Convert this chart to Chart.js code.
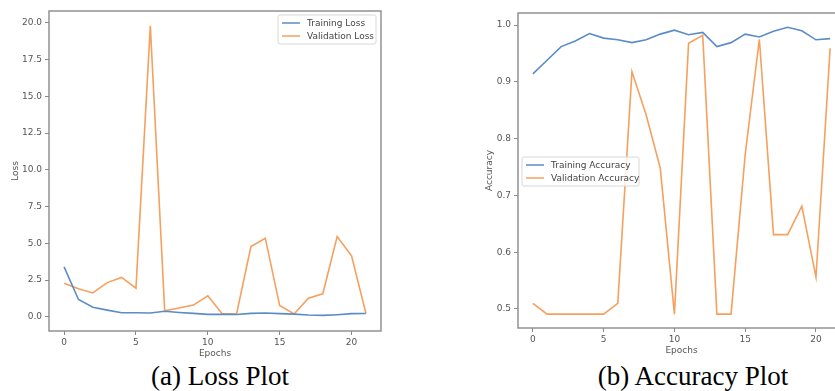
<!DOCTYPE html>
<html>
<head>
<meta charset="utf-8">
<script src="https://cdn.jsdelivr.net/npm/chart.js@4.4.1/dist/chart.umd.min.js"></script>
<style>
  html, body { margin: 0; padding: 0; background: #fff; }
  body { width: 835px; height: 391px; position: relative; overflow: hidden; }
  .plot { position: absolute; }
  .caption {
    position: absolute; top: 361px; font-family: "Liberation Serif", "Times New Roman", serif;
    font-size: 27px; line-height: 30px; color: #000; white-space: nowrap; transform: translateX(-50%);
  }
</style>
</head>
<body>
<div class="plot" style="left:0px; top:0px; width:400px; height:359px;"><canvas id="lossChart"></canvas></div>
<div class="plot" style="left:480px; top:0px; width:380px; height:356px;"><canvas id="accChart"></canvas></div>
<div class="caption" style="left:220px;">(a) Loss Plot</div>
<div class="caption" style="left:693px;">(b) Accuracy Plot</div>

<script>
// Data
const epochs = [0, 1, 2, 3, 4, 5, 6, 7, 8, 9, 10, 11, 12, 13, 14, 15, 16, 17, 18, 19, 20, 21];

const trainLoss = [3.4, 1.18, 0.65, 0.46, 0.28, 0.28, 0.26, 0.38, 0.3, 0.24, 0.17, 0.17, 0.16, 0.24, 0.26, 0.22, 0.19, 0.13, 0.1, 0.15, 0.22, 0.23];
const valLoss = [2.28, 1.92, 1.63, 2.33, 2.68, 1.95, 19.8, 0.42, 0.6, 0.8, 1.43, 0.22, 0.2, 4.78, 5.35, 0.77, 0.2, 1.27, 1.57, 5.46, 4.15, 0.25];

const trainAcc = [0.914, 0.938, 0.962, 0.972, 0.985, 0.977, 0.974, 0.969, 0.974, 0.984, 0.991, 0.983, 0.987, 0.962, 0.969, 0.984, 0.979, 0.989, 0.996, 0.99, 0.974, 0.976];
const valAcc = [0.51, 0.491, 0.491, 0.491, 0.491, 0.491, 0.51, 0.918, 0.842, 0.748, 0.491, 0.968, 0.982, 0.491, 0.491, 0.772, 0.975, 0.631, 0.631, 0.681, 0.556, 0.959];

const lossTicks = [0, 2.5, 5, 7.5, 10, 12.5, 15, 17.5, 20];
const accTicks = [0.5, 0.6, 0.7, 0.8, 0.9, 1.0];
const epochTicks = [0, 5, 10, 15, 20];

const BLUE = "#5b8cc6";
const ORANGE = "#f5a05e";
const AXIS = "#8a8a8a";
const TEXT = "#555";

// box around the plot area, matplotlib style
const frame = {
  id: "frame",
  afterDraw(chart) {
    const { ctx, chartArea: a } = chart;
    ctx.save();
    ctx.strokeStyle = AXIS;
    ctx.lineWidth = 1.4;
    ctx.strokeRect(a.left, a.top, a.right - a.left, a.bottom - a.top);
    ctx.restore();
  },
};

// legend drawn inside the axes
const boxLegend = {
  id: "boxLegend",
  afterDraw(chart, args, opts) {
    const { ctx } = chart;
    const sets = chart.data.datasets;
    ctx.save();
    ctx.font = "9px 'DejaVu Sans'";
    ctx.fillStyle = "rgba(255,255,255,0.8)";
    ctx.strokeStyle = "#d8d8d8";
    ctx.lineWidth = 1;
    ctx.beginPath();
    ctx.roundRect(opts.x, opts.y, opts.w, opts.h, 2);
    ctx.fill();
    ctx.stroke();
    sets.forEach((ds, i) => {
      const y = opts.y + 8 + i * 13;
      ctx.strokeStyle = ds.borderColor;
      ctx.lineWidth = 1.5;
      ctx.beginPath();
      ctx.moveTo(opts.x + 4, y);
      ctx.lineTo(opts.x + 22, y);
      ctx.stroke();
      ctx.fillStyle = "#444";
      ctx.textBaseline = "middle";
      ctx.fillText(ds.label, opts.x + 29, y + 0.5);
    });
    ctx.restore();
  },
};

function makeChart(id, cfg) {
  const series = cfg.series.map((s) => ({
    label: s.label,
    data: epochs.map((e, i) => ({ x: e, y: s.values[i] })),
    borderColor: s.color,
    borderWidth: 1.6,
    pointRadius: 0,
    tension: 0,
    fill: false,
  }));

  return new Chart(document.getElementById(id), {
    type: "line",
    data: { datasets: series },
    plugins: [frame, boxLegend],
    options: {
      responsive: true,
      maintainAspectRatio: false,
      animation: false,
      layout: { padding: cfg.padding },
      plugins: {
        legend: { display: false },
        tooltip: { enabled: false },
        boxLegend: cfg.legend,
      },
      scales: {
        x: {
          type: "linear",
          min: -1.05,
          max: 22.05,
          afterBuildTicks: (s) => { s.ticks = epochTicks.map((v) => ({ value: v })); },
          afterFit: (s) => { s.height = cfg.xHeight; },
          grid: { drawOnChartArea: false, color: AXIS, tickLength: 4, tickWidth: 1 },
          border: { display: false },
          ticks: { color: TEXT, font: { family: "DejaVu Sans", size: 9 }, padding: 2, maxRotation: 0,
                   callback: (v) => String(v) },
          title: { display: true, text: "Epochs", color: TEXT, font: { family: "DejaVu Sans", size: 9 }, padding: 0 },
        },
        y: {
          min: cfg.yMin,
          max: cfg.yMax,
          afterBuildTicks: (s) => { s.ticks = cfg.yTicks.map((v) => ({ value: v })); },
          afterFit: (s) => { s.width = cfg.yWidth; },
          grid: { drawOnChartArea: false, color: AXIS, tickLength: 4, tickWidth: 1 },
          border: { display: false },
          ticks: { color: TEXT, font: { family: "DejaVu Sans", size: 9 }, padding: 3,
                   callback: (v) => v.toFixed(1) },
          title: { display: true, text: cfg.yTitle, color: TEXT, font: { family: "DejaVu Sans", size: 9 },
                   padding: { top: cfg.yTitlePad, bottom: 0 } },
        },
      },
    },
  });
}

makeChart("lossChart", {
  series: [
    { label: "Training Loss", values: trainLoss, color: BLUE },
    { label: "Validation Loss", values: valLoss, color: ORANGE },
  ],
  yMin: -0.96, yMax: 20.8, yTicks: lossTicks, yTitle: "Loss", yTitlePad: 10,
  yWidth: 49, xHeight: 28,
  padding: { left: 0, top: 11, right: 19, bottom: 0 },
  legend: { x: 278, y: 15, w: 98, h: 29 },
});

makeChart("accChart", {
  series: [
    { label: "Training Accuracy", values: trainAcc, color: BLUE },
    { label: "Validation Accuracy", values: valAcc, color: ORANGE },
  ],
  yMin: 0.4665, yMax: 1.0212, yTicks: accTicks, yTitle: "Accuracy", yTitlePad: 4,
  yWidth: 38, xHeight: 28,
  padding: { left: 0, top: 13, right: 15, bottom: 0 },
  legend: { x: 42, y: 157, w: 117, h: 29 },
});
</script>
</body>
</html>
